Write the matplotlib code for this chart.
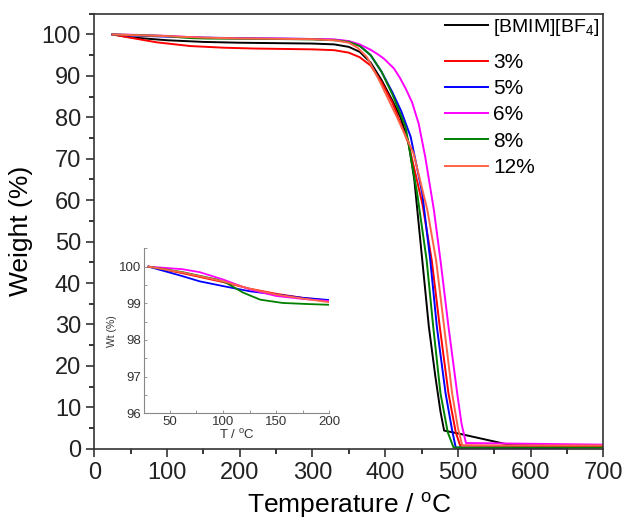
import numpy as np
import matplotlib
matplotlib.use("Agg")
import matplotlib.pyplot as plt
from matplotlib.ticker import MultipleLocator

plt.rcParams['font.family'] = ['Liberation Sans', 'DejaVu Sans']
plt.rcParams['mathtext.fontset'] = 'custom'
plt.rcParams['mathtext.rm'] = 'Liberation Sans'
plt.rcParams['mathtext.it'] = 'Liberation Sans'

# TGA curves, temperature (C) vs remaining weight (%)
labels = ['[BMIM][BF$_4$]', '3%', '5%', '6%', '8%', '12%']
colors = ['black', '#ff0000', '#0000ff', '#ff00ff', '#008000', '#ff6347']

T_bmim = [25, 50, 100, 150, 200, 250, 300, 330, 350, 365, 380, 395, 410, 421, 432, 440, 451, 460, 469, 476, 481, 503, 572, 700]
W_bmim = [100, 99.3, 98.6, 98.2, 98.0, 97.9, 97.8, 97.6, 97.0, 95.8, 93.2, 89.0, 84.0, 80.0, 74.0, 65.0, 45.5, 29.5, 17.4, 9.0, 4.4, 3.6, 0.9, 0.7]

T_3 = [25, 50, 86, 132, 178, 220, 260, 300, 330, 350, 365, 380, 395, 410, 432, 451, 464, 475, 487, 497, 503, 550, 700]
W_3 = [100, 99.2, 98.1, 97.2, 96.8, 96.6, 96.5, 96.4, 96.2, 95.6, 94.5, 92.5, 88.5, 83.5, 73.7, 59.2, 45.5, 29.5, 13.4, 4.0, 0.8, 0.7, 0.6]

T_5 = [25, 50, 100, 150, 200, 250, 300, 330, 350, 365, 380, 395, 410, 422, 435, 451, 462, 471, 483, 492, 497, 650]
W_5 = [100, 99.75, 99.47, 99.24, 99.09, 99.0, 98.9, 98.7, 98.3, 97.3, 95.0, 91.0, 86.0, 81.5, 75.3, 61.6, 45.5, 29.5, 13.4, 4.5, 0.3, 0.2]

T_6 = [25, 50, 100, 150, 200, 250, 300, 330, 350, 365, 380, 390, 398, 405, 412, 420, 428, 437, 446, 455, 467, 476, 487, 499, 505, 511, 700]
W_6 = [100, 99.93, 99.65, 99.2, 99.06, 99.0, 98.9, 98.8, 98.4, 97.6, 96.3, 95.2, 94.2, 93.0, 91.8, 89.6, 87.0, 83.6, 78.5, 70.5, 57.6, 45.5, 29.5, 13.4, 6.0, 1.4, 1.0]

T_8 = [25, 50, 94, 103, 119, 135, 156, 200, 250, 300, 330, 350, 365, 380, 395, 410, 428, 444, 457, 466, 476, 486, 494, 700]
W_8 = [100, 99.87, 99.65, 99.56, 99.29, 99.1, 99.01, 98.96, 98.9, 98.8, 98.6, 98.2, 97.2, 95.0, 91.0, 85.5, 77.7, 61.6, 45.5, 29.5, 13.4, 4.0, 0.3, 0.3]

T_12 = [25, 50, 100, 125, 150, 175, 200, 250, 300, 330, 350, 362, 375, 393, 416, 439, 458, 470, 481, 492, 500, 506, 700]
W_12 = [100, 99.86, 99.6, 99.4, 99.24, 99.13, 99.03, 98.95, 98.85, 98.6, 98.0, 96.8, 94.5, 88.5, 80.1, 71.3, 57.6, 45.5, 29.5, 13.4, 5.0, 0.8, 0.8]

# low temperature region for the inset
Ti_3 = [30, 62, 100, 125, 150, 175, 200]
Wi_3 = [100, 99.82, 99.58, 99.4, 99.26, 99.15, 99.07]
Ti_5 = [30, 62, 78, 100, 125, 150, 175, 200]
Wi_5 = [100, 99.74, 99.6, 99.47, 99.33, 99.24, 99.15, 99.09]
Ti_6 = [30, 62, 78, 100, 125, 150, 175, 200]
Wi_6 = [100, 99.93, 99.85, 99.65, 99.38, 99.2, 99.12, 99.06]
Ti_8 = [30, 62, 94, 103, 119, 135, 156, 180, 200]
Wi_8 = [100, 99.85, 99.65, 99.56, 99.29, 99.1, 99.01, 98.98, 98.96]
Ti_12 = [30, 62, 100, 125, 150, 175, 200]
Wi_12 = [100, 99.84, 99.6, 99.4, 99.24, 99.13, 99.03]

main_T = [T_bmim, T_3, T_5, T_6, T_8, T_12]
main_W = [W_bmim, W_3, W_5, W_6, W_8, W_12]

fig = plt.figure(figsize=(6.24, 5.28), dpi=100)
ax = fig.add_axes([0.151, 0.150, 0.816, 0.824])

lines = []
for T, W, c, lab in zip(main_T, main_W, colors, labels):
    ln, = ax.plot(T, W, color=c, lw=1.4, label=lab)
    lines.append(ln)

ax.set_xlim(0, 700)
ax.set_ylim(0, 105)
ax.xaxis.set_major_locator(MultipleLocator(100))
ax.xaxis.set_minor_locator(MultipleLocator(50))
ax.yaxis.set_major_locator(MultipleLocator(10))
ax.yaxis.set_minor_locator(MultipleLocator(5))
ax.tick_params(which='major', direction='out', length=6, width=1.1, labelsize=17, colors='#222222')
ax.tick_params(which='minor', direction='out', length=3.5, width=1.1)
for s in ax.spines.values():
    s.set_linewidth(1.2)
    s.set_color('#333333')
ax.set_xlabel('Temperature / $^{\\mathrm{o}}$C', fontsize=19, labelpad=5)
ax.set_ylabel('Weight (%)', fontsize=19, labelpad=6)

# pure IL entry sits a little apart from the composite entries
leg_kw = dict(frameon=False, handletextpad=0.25, borderpad=0, borderaxespad=0)
leg1 = ax.legend(lines[:1], labels[:1], loc='center left', fontsize=14,
                 handlelength=2.2, bbox_to_anchor=(0.689, 0.968), **leg_kw)
ax.add_artist(leg1)
ax.legend(lines[1:], labels[1:], loc='upper left', labelspacing=0.35, fontsize=15,
          handlelength=2.07, bbox_to_anchor=(0.689, 0.91), **leg_kw)

# inset
ins = fig.add_axes([0.2313, 0.2172, 0.2965, 0.3125])
inset_T = [Ti_3, Ti_5, Ti_6, Ti_8, Ti_12]
inset_W = [Wi_3, Wi_5, Wi_6, Wi_8, Wi_12]
for T, W, c in zip(inset_T, inset_W, colors[1:]):
    ins.plot(T, W, color=c, lw=1.3)
ins.set_xlim(26, 200)
ins.set_ylim(96, 100.5)
ins.spines['top'].set_visible(False)
ins.spines['right'].set_visible(False)
for s in ['left', 'bottom']:
    ins.spines[s].set_color('#888888')
    ins.spines[s].set_linewidth(0.8)
ins.xaxis.set_major_locator(MultipleLocator(50))
ins.xaxis.set_minor_locator(MultipleLocator(25))
ins.yaxis.set_major_locator(MultipleLocator(1))
ins.yaxis.set_minor_locator(MultipleLocator(0.5))
ins.tick_params(which='both', direction='in', length=2, width=0.6, color='#888888',
                labelsize=9.5, pad=2, labelcolor='#333333')
ins.set_xlabel('T / $^{\\mathrm{o}}$C', fontsize=9.5, labelpad=0, color='#333333')
ins.set_ylabel('Wt (%)', fontsize=7.5, labelpad=2, color='#333333')
ins.patch.set_alpha(0)

fig.savefig('out.png', dpi=100)
